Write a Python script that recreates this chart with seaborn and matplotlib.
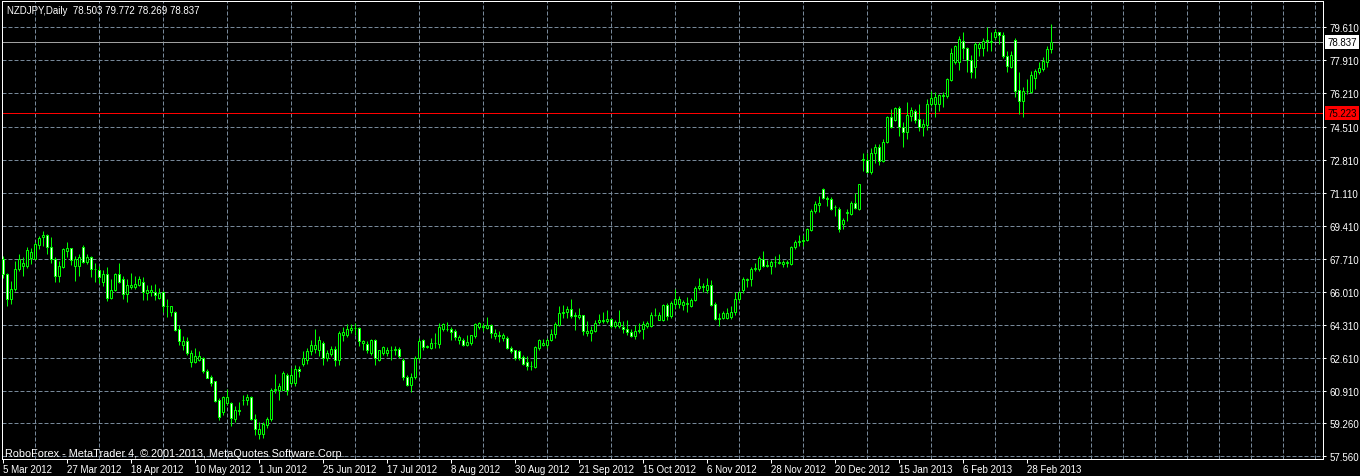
import numpy as np
import pandas as pd
import matplotlib
matplotlib.use("Agg")
import matplotlib.pyplot as plt
import matplotlib.transforms as mtransforms
import seaborn as sns

# ---------------- data ----------------
opens = [67.72, 66.91, 65.62, 66.14, 67.17, 67.34, 67.34, 67.74, 67.72, 68.43,
         68.81, 68.93, 68.34, 67.69, 66.83, 67.29, 68.12, 68.26, 67.34, 67.34,
         68.34, 67.55, 67.78, 67.21, 67.14, 66.54, 66.95, 65.71, 66.11, 66.95,
         66.66, 65.92, 66.26, 66.26, 66.36, 66.54, 65.97, 66.02, 66.02, 65.68,
         65.99, 65.26, 64.96, 64.96, 64.11, 63.27, 63.51, 62.41, 62.39, 62.51,
         62.59, 61.96, 61.65, 61.41, 60.46, 59.86, 60.29, 60.29, 59.48, 59.91,
         60.43, 60.43, 60.63, 59.46, 58.71, 58.71, 59.17, 59.50, 60.95, 60.97,
         60.97, 61.75, 61.32, 61.32, 62.06, 62.29, 62.53, 62.96, 63.08, 63.04,
         63.39, 62.61, 62.84, 63.10, 62.53, 63.82, 63.82, 64.06, 64.18, 64.17,
         63.36, 63.34, 62.87, 63.53, 62.53, 62.87, 62.87, 63.01, 63.01, 63.08,
         62.53, 61.66, 61.23, 61.63, 62.61, 63.53, 63.18, 63.13, 63.36, 63.32,
         64.08, 64.08, 64.11, 63.98, 63.56, 63.53, 63.27, 63.36, 63.73, 64.22,
         64.20, 64.17, 64.29, 63.73, 63.77, 63.65, 63.65, 63.13, 63.00, 62.96,
         62.68, 62.39, 62.20, 62.15, 63.13, 63.26, 63.26, 63.52, 63.86, 64.33,
         64.93, 64.96, 65.13, 64.81, 64.71, 64.81, 63.90, 63.90, 64.02, 64.45,
         64.53, 64.52, 64.62, 64.24, 64.28, 64.21, 64.10, 63.93, 63.76, 64.02,
         64.10, 64.27, 64.27, 64.81, 64.58, 64.55, 65.35, 64.76, 65.40, 65.40,
         65.32, 65.40, 65.30, 65.58, 66.21, 66.25, 66.13, 66.38, 65.40, 64.63,
         64.67, 64.67, 64.71, 64.96, 65.66, 66.13, 66.64, 66.68, 67.19, 67.19,
         67.71, 67.36, 67.33, 67.53, 67.50, 67.43, 67.50, 67.43, 68.31, 68.60,
         68.65, 68.67, 69.19, 70.16, 70.46, 71.31, 70.85, 70.80, 70.39, 70.29,
         69.49, 70.08, 69.99, 70.59, 70.25, 72.79, 72.77, 72.17, 73.13, 73.48,
         72.74, 73.72, 75.02, 74.85, 75.44, 74.51, 74.23, 75.06, 75.32, 74.89,
         74.51, 74.58, 75.66, 75.66, 75.66, 76.12, 76.09, 76.91, 77.81, 77.84,
         78.92, 78.53, 77.94, 77.55, 78.53, 78.53, 78.96, 78.85, 79.10, 79.35,
         79.22, 78.11, 77.55, 78.96, 76.40, 75.83, 76.35, 76.30, 76.98, 77.33,
         77.46, 77.84, 78.503]
highs = [67.86, 67.00, 66.57, 67.60, 67.95, 67.78, 68.33, 68.29, 68.55, 68.89,
         69.12, 68.98, 68.81, 67.78, 67.60, 68.29, 68.60, 68.29, 67.86, 67.95,
         68.41, 67.95, 67.86, 67.47, 67.34, 67.12, 67.29, 66.66, 67.00, 67.47,
         66.83, 66.66, 67.00, 66.83, 66.83, 66.79, 66.36, 66.35, 66.43, 66.23,
         66.05, 65.62, 65.31, 65.01, 64.33, 63.73, 63.68, 63.00, 63.13, 62.96,
         62.65, 62.06, 61.75, 61.44, 60.55, 60.68, 61.03, 60.34, 60.12, 60.34,
         60.72, 60.77, 60.67, 59.72, 59.31, 59.34, 59.60, 61.05, 61.80, 61.32,
         61.92, 61.84, 62.10, 62.27, 62.20, 62.96, 63.13, 63.56, 64.08, 63.73,
         63.48, 63.04, 63.22, 63.22, 64.00, 64.22, 64.34, 64.34, 64.39, 64.22,
         63.56, 63.48, 63.60, 63.60, 63.04, 63.25, 63.18, 63.22, 63.22, 63.18,
         62.61, 61.75, 61.84, 62.70, 63.65, 63.60, 63.30, 63.65, 63.91, 64.42,
         64.42, 64.48, 64.22, 64.08, 63.82, 63.65, 63.82, 63.82, 64.42, 64.48,
         64.42, 64.72, 64.34, 64.11, 63.99, 63.91, 63.73, 63.25, 63.04, 63.01,
         62.79, 62.70, 62.44, 63.25, 63.60, 63.59, 63.64, 64.10, 64.45, 65.30,
         65.35, 65.27, 65.66, 64.98, 65.18, 64.84, 64.50, 64.24, 64.58, 64.89,
         64.96, 65.10, 64.67, 64.58, 65.10, 64.50, 64.55, 64.10, 64.33, 64.41,
         64.50, 64.50, 64.96, 65.18, 64.96, 65.41, 65.44, 65.52, 66.16, 65.82,
         65.58, 65.73, 65.68, 66.30, 66.73, 66.47, 66.71, 66.64, 65.47, 64.93,
         65.01, 65.18, 65.27, 66.01, 66.04, 66.76, 66.71, 67.29, 67.50, 67.88,
         68.09, 67.67, 67.67, 67.88, 67.98, 67.67, 67.67, 68.36, 68.70, 68.91,
         68.91, 69.31, 70.25, 70.68, 70.94, 71.35, 70.94, 70.90, 70.46, 70.39,
         69.82, 70.29, 70.68, 71.11, 71.56, 73.13, 73.17, 73.42, 73.60, 73.60,
         73.86, 75.06, 75.40, 75.49, 75.54, 74.72, 75.78, 75.49, 75.40, 75.66,
         74.89, 75.92, 76.35, 76.26, 76.17, 76.26, 76.98, 78.53, 78.70, 79.18,
         79.39, 78.58, 78.18, 78.87, 78.87, 79.04, 79.61, 79.35, 79.52, 79.39,
         79.35, 78.40, 78.40, 79.04, 77.29, 76.52, 76.95, 77.38, 77.46, 77.81,
         78.06, 78.63, 79.772]
lows = [66.74, 65.28, 65.37, 66.05, 67.09, 66.83, 67.26, 67.43, 67.69, 68.21,
        68.38, 67.95, 67.52, 66.54, 66.54, 67.26, 67.81, 67.40, 66.57, 66.83,
        67.52, 67.46, 66.78, 66.54, 66.48, 66.31, 65.54, 65.62, 66.05, 66.48,
        65.62, 65.49, 66.14, 66.14, 66.31, 65.57, 65.57, 65.80, 65.57, 65.62,
        64.99, 64.71, 64.76, 64.02, 63.30, 63.04, 62.79, 62.13, 62.35, 62.44,
        61.84, 61.58, 61.18, 60.34, 59.43, 59.69, 60.20, 59.14, 59.34, 59.69,
        60.20, 60.20, 59.43, 58.65, 58.44, 58.48, 59.00, 59.40, 60.80, 60.46,
        60.95, 60.72, 61.23, 61.18, 61.66, 62.18, 62.32, 62.79, 62.87, 62.70,
        62.27, 62.44, 62.70, 62.18, 62.27, 63.51, 63.70, 63.91, 63.82, 63.25,
        63.04, 62.87, 62.79, 62.27, 62.44, 62.79, 62.70, 62.49, 62.79, 62.61,
        61.49, 61.15, 60.89, 61.53, 62.53, 63.04, 63.13, 63.06, 63.13, 63.13,
        64.00, 64.00, 63.56, 63.53, 63.32, 63.22, 63.22, 63.30, 63.65, 64.08,
        63.98, 64.08, 63.65, 63.58, 63.46, 63.48, 63.08, 62.87, 62.53, 62.53,
        62.27, 62.01, 61.98, 62.10, 63.04, 63.21, 63.13, 63.47, 63.64, 64.24,
        64.67, 64.67, 64.67, 64.04, 64.62, 63.81, 63.73, 63.47, 63.93, 64.38,
        64.41, 64.41, 64.15, 64.15, 64.15, 63.90, 63.81, 63.69, 63.59, 63.90,
        63.59, 64.15, 64.22, 64.76, 64.55, 64.50, 64.58, 64.67, 65.18, 65.18,
        65.10, 64.96, 65.23, 65.52, 66.13, 65.99, 65.96, 65.30, 64.58, 64.24,
        64.62, 64.62, 64.62, 64.84, 65.52, 65.96, 66.25, 66.33, 67.07, 67.07,
        67.29, 67.29, 66.95, 67.29, 67.43, 67.29, 67.29, 67.38, 68.19, 68.39,
        68.39, 68.62, 69.13, 70.08, 70.13, 70.77, 70.42, 70.22, 69.91, 69.08,
        69.26, 69.65, 69.94, 70.25, 70.20, 72.22, 72.10, 72.05, 72.65, 72.52,
        72.69, 73.68, 74.41, 74.80, 74.03, 73.46, 73.86, 74.80, 74.68, 74.28,
        74.03, 74.34, 75.54, 75.02, 75.32, 75.49, 76.00, 76.86, 77.72, 77.43,
        77.98, 77.33, 76.98, 76.98, 78.11, 78.11, 78.41, 78.41, 78.98, 78.75,
        78.01, 77.33, 77.50, 76.05, 75.15, 74.98, 76.17, 76.23, 76.43, 77.20,
        77.38, 77.55, 78.269]
closes = [66.91, 65.62, 66.17, 67.17, 67.69, 67.52, 68.15, 68.08, 68.46, 68.77,
          68.93, 68.33, 67.69, 66.83, 67.34, 68.21, 68.26, 67.65, 67.72, 67.78,
          67.55, 67.78, 67.17, 67.19, 66.79, 66.95, 65.71, 66.11, 66.95, 66.54,
          65.92, 66.35, 66.35, 66.40, 66.66, 66.02, 66.09, 66.09, 65.85, 65.94,
          65.30, 65.31, 65.26, 64.06, 63.47, 63.51, 62.85, 62.89, 62.73, 62.73,
          61.92, 61.61, 61.32, 60.38, 59.60, 60.63, 60.60, 59.51, 59.93, 59.94,
          60.46, 60.63, 59.46, 58.95, 58.96, 59.21, 59.48, 60.97, 61.02, 61.18,
          61.84, 60.97, 61.72, 62.06, 61.93, 62.61, 62.99, 63.30, 63.30, 63.53,
          62.61, 62.87, 63.10, 62.53, 63.91, 63.94, 64.08, 64.17, 64.15, 63.48,
          63.48, 63.01, 63.53, 62.61, 63.01, 63.18, 63.04, 63.04, 63.08, 62.70,
          61.66, 61.23, 61.63, 62.61, 63.48, 63.18, 63.25, 63.39, 63.39, 64.22,
          64.34, 64.11, 63.94, 63.70, 63.70, 63.27, 63.41, 63.77, 64.34, 64.39,
          64.25, 64.29, 63.91, 63.91, 63.73, 63.77, 63.13, 62.96, 62.61, 62.61,
          62.32, 62.22, 62.22, 63.18, 63.52, 63.40, 63.55, 63.86, 64.38, 64.93,
          64.98, 65.13, 64.75, 64.78, 64.83, 63.98, 64.02, 64.07, 64.43, 64.58,
          64.58, 64.62, 64.24, 64.45, 64.45, 64.10, 63.93, 63.76, 64.02, 64.07,
          64.38, 64.41, 64.84, 64.84, 64.84, 65.35, 64.76, 65.44, 65.66, 65.66,
          65.49, 65.44, 65.61, 66.21, 66.33, 66.30, 66.38, 65.35, 64.63, 64.67,
          64.93, 64.93, 64.98, 65.66, 65.99, 66.68, 66.68, 67.19, 67.23, 67.74,
          67.36, 67.41, 67.57, 67.57, 67.55, 67.57, 67.53, 68.33, 68.57, 68.65,
          68.70, 69.26, 70.16, 70.51, 70.59, 70.85, 70.80, 70.29, 70.36, 69.26,
          69.73, 70.13, 70.59, 70.34, 71.54, 72.82, 72.17, 73.13, 73.48, 72.74,
          73.72, 75.02, 74.51, 75.44, 74.51, 74.23, 75.11, 75.37, 74.85, 74.51,
          74.63, 75.66, 76.00, 76.05, 76.12, 76.09, 76.95, 78.27, 78.63, 79.01,
          78.53, 77.94, 77.29, 78.75, 78.75, 78.92, 78.92, 78.92, 79.35, 79.22,
          78.11, 77.60, 78.18, 76.35, 75.83, 76.35, 76.31, 77.16, 77.38, 77.50,
          77.89, 78.49, 78.837]

x_tick_labels = ["5 Mar 2012", "27 Mar 2012", "18 Apr 2012", "10 May 2012",
                 "1 Jun 2012", "25 Jun 2012", "17 Jul 2012", "8 Aug 2012",
                 "30 Aug 2012", "21 Sep 2012", "15 Oct 2012", "6 Nov 2012",
                 "28 Nov 2012", "20 Dec 2012", "15 Jan 2013", "6 Feb 2013",
                 "28 Feb 2013"]
y_tick_values = [79.61, 77.91, 76.21, 74.51, 72.81, 71.11, 69.41, 67.71,
                 66.01, 64.31, 62.61, 60.91, 59.26, 57.56]
bid_price = 78.837
level_price = 75.223
header_text = "NZDJPY,Daily  78.503 79.772 78.269 78.837"
credit_text = "RoboForex - MetaTrader 4, \u00a9 2001-2013, MetaQuotes Software Corp."

# ---------------- style ----------------
sns.set_theme(style="dark", rc={
    "axes.facecolor": "black",
    "figure.facecolor": "black",
    "axes.edgecolor": "white",
    "text.color": "white",
    "xtick.color": "white",
    "ytick.color": "white",
})
plt.rcParams["font.family"] = ["Liberation Sans", "DejaVu Sans"]

W, H = 1360, 477
fig = plt.figure(figsize=(W / 100, H / 100), dpi=100)
left_px, right_px, top_px, bot_px = 2.0, 1322.5, 1.5, 459.5
ax = fig.add_axes([left_px / W, (H - bot_px) / H,
                   (right_px - left_px) / W, (bot_px - top_px) / H])

df = pd.DataFrame({"open": opens, "high": highs, "low": lows, "close": closes})
df["bar"] = np.arange(len(df))
df["bull"] = df["close"] >= df["open"]
df["body_lo"] = df[["open", "close"]].min(axis=1)
df["body_h"] = (df["close"] - df["open"]).abs().clip(lower=0.02)

px = 0.72  # one pixel in points
lime = "#00ff00"

# wicks
ax.vlines(df["bar"], df["low"], df["high"], color=lime, linewidth=px, zorder=3)
# bodies
fills = np.where(df["bull"], "black", "white")
ax.bar(df["bar"], df["body_h"], bottom=df["body_lo"], width=0.5,
       color=fills, edgecolor=lime, linewidth=px, zorder=4)

# price lines
ax.axhline(bid_price, color="#a0a0a0", linewidth=px, zorder=2)
ax.axhline(level_price, color="#ff0000", linewidth=px, zorder=2)

# axes limits
ax.set_xlim(-0.325, 329.8)
ax.set_ylim(57.447, 80.987)

# x ticks
major_x = list(range(0, 16 * len(x_tick_labels), 16))
ax.set_xticks(major_x)
ax.set_xticklabels(x_tick_labels, ha="left")
ax.set_xticks(list(range(0, 330, 8)), minor=True)
ax.tick_params(axis="x", which="major", length=3, width=px, pad=1.2,
               labelsize=7, colors="white", direction="out", bottom=True)
ax.tick_params(axis="x", which="minor", length=0)

# y ticks on right
ax.yaxis.tick_right()
ax.set_yticks(y_tick_values)
ax.set_yticklabels([f"{v:.3f}" for v in y_tick_values])
ax.tick_params(axis="y", which="major", length=2.5, width=px, pad=2.5,
               labelsize=7, colors="white", direction="out", right=True, left=False)

# grid
ax.set_axisbelow(True)
grid_kw = dict(color="#778899", linestyle=(0, (4, 2)), linewidth=px)
ax.grid(False)
ax.xaxis.grid(True, which="minor", **grid_kw)
ax.yaxis.grid(True, which="major", **grid_kw)

for sp in ax.spines.values():
    sp.set_visible(True)
    sp.set_color("white")
    sp.set_linewidth(px)

# right price labels
trans = mtransforms.blended_transform_factory(ax.transAxes, ax.transData)
xoff = 1.0 + 5.0 / (right_px - left_px)
ax.text(xoff, bid_price, f"{bid_price:.3f}", transform=trans, ha="left", va="center",
        color="black", fontsize=7, zorder=10, clip_on=False,
        bbox=dict(boxstyle="square,pad=0.22", fc="white", ec="none"))
ax.text(xoff, level_price, f"{level_price:.3f}", transform=trans, ha="left", va="center",
        color="black", fontsize=7, zorder=10, clip_on=False,
        bbox=dict(boxstyle="square,pad=0.22", fc="#ff0000", ec="none"))

# texts
fig.text(7 / W, 1 - 10.5 / H, header_text, color="white", fontsize=7,
         ha="left", va="center")
fig.text(5 / W, 1 - 454 / H, credit_text, color="white", fontsize=7.8,
         ha="left", va="center")

fig.savefig("out.png", dpi=100, facecolor="black")
